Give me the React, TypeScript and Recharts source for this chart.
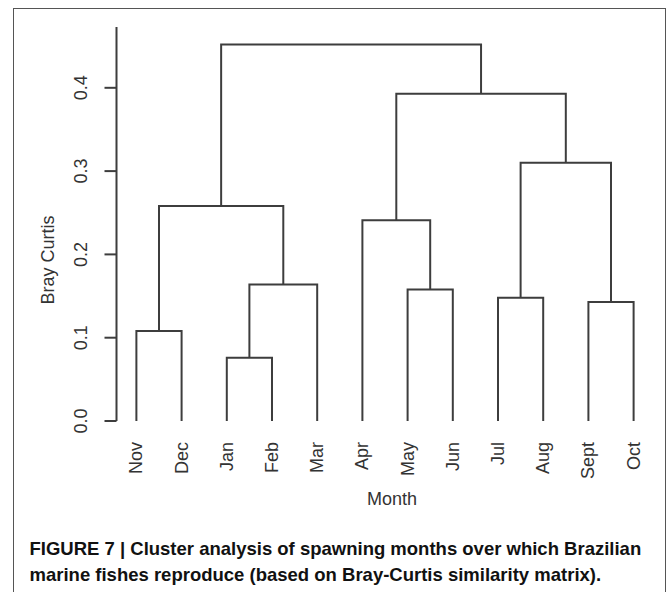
import React from 'react';
import { ScatterChart, Scatter, XAxis, YAxis } from 'recharts';

// Leaf order of the dendrogram
const months = ['Nov', 'Dec', 'Jan', 'Feb', 'Mar', 'Apr', 'May', 'Jun', 'Jul', 'Aug', 'Sept', 'Oct'];
// Agglomeration steps (R hclust style): '#n' refers to merge n
const mergeLeft = ['Jan', 'Nov', 'Sept', 'Jul', 'May', '#1', 'Apr', '#2', '#4', '#7', '#8'];
const mergeRight = ['Feb', 'Dec', 'Oct', 'Aug', 'Jun', 'Mar', '#5', '#6', '#3', '#9', '#10'];
const mergeHeights = [0.076, 0.108, 0.143, 0.148, 0.158, 0.164, 0.241, 0.258, 0.31, 0.393, 0.452];
const yTicks = [0, 0.1, 0.2, 0.3, 0.4];
const yTop = 0.473;

const FONT = '"Liberation Sans", Arial, Helvetica, sans-serif';
const INK = '#3d3d3d';

function nodeX(ref: string): number {
  if (ref.startsWith('#')) {
    const i = parseInt(ref.slice(1), 10) - 1;
    return (nodeX(mergeLeft[i]) + nodeX(mergeRight[i])) / 2;
  }
  return months.indexOf(ref) + 1;
}
function nodeY(ref: string): number {
  if (ref.startsWith('#')) return mergeHeights[parseInt(ref.slice(1), 10) - 1];
  return 0;
}

const brackets = mergeHeights.map((h, i) => {
  const l = mergeLeft[i];
  const r = mergeRight[i];
  return [
    { x: nodeX(l), y: nodeY(l) },
    { x: nodeX(l), y: h },
    { x: nodeX(r), y: h },
    { x: nodeX(r), y: nodeY(r) },
  ];
});

const NoShape = () => <g />;

const YTick = (props: any) => {
  const { y, payload } = props;
  return (
    <text
      transform={`translate(87, ${y}) rotate(-90)`}
      textAnchor="middle"
      fontSize={18}
      fontFamily={FONT}
      fill="#333"
    >
      {Number(payload.value).toFixed(1)}
    </text>
  );
};

const XTick = (props: any) => {
  const { x, payload } = props;
  return (
    <text
      transform={`translate(${x + 6}, 442) rotate(-90)`}
      textAnchor="end"
      fontSize={18}
      fontFamily={FONT}
      fill="#333"
    >
      {months[Math.round(payload.value) - 1]}
    </text>
  );
};

export default function App() {
  return (
    <div style={{ position: 'absolute', left: 0, top: 0, width: 672, height: 592, background: '#fff', overflow: 'hidden' }}>
      <div
        style={{
          position: 'absolute',
          left: 13,
          top: 8,
          width: 653,
          height: 620,
          border: '1.5px solid #555',
          boxSizing: 'border-box',
        }}
      />
      <div style={{ position: 'absolute', left: 0, top: 0 }}>
        <ScatterChart width={672} height={592} margin={{ top: 27, right: 18.5, bottom: 141, left: 56.5 }}>
          <XAxis
            type="number"
            dataKey="x"
            domain={[0.56, 12.44]}
            ticks={months.map((_, i) => i + 1)}
            interval={0}
            height={30}
            axisLine={false}
            tickLine={false}
            tick={<XTick />}
            allowDataOverflow
          />
          <YAxis
            type="number"
            dataKey="y"
            domain={[0, yTop]}
            ticks={yTicks}
            interval={0}
            width={60}
            tickSize={12}
            axisLine={{ stroke: INK, strokeWidth: 2 }}
            tickLine={{ stroke: INK, strokeWidth: 2 }}
            tick={<YTick />}
            allowDataOverflow
          />
          {brackets.map((d, i) => (
            <Scatter
              key={i}
              data={d}
              line={{ stroke: INK, strokeWidth: 2 }}
              lineType="joint"
              shape={<NoShape />}
              fill={INK}
              isAnimationActive={false}
            />
          ))}
        </ScatterChart>
      </div>
      <svg width={672} height={592} style={{ position: 'absolute', left: 0, top: 0, pointerEvents: 'none' }}>
        <text
          transform="translate(54, 260) rotate(-90)"
          textAnchor="middle"
          fontSize={18}
          fontFamily={FONT}
          fill="#333"
        >
          Bray Curtis
        </text>
        <text x={392} y={505} textAnchor="middle" fontSize={18} fontFamily={FONT} fill="#333">
          Month
        </text>
        <text x={29.5} y={555} fontSize={18.5} fontWeight="bold" fontFamily={FONT} fill="#111">
          FIGURE 7 | Cluster analysis of spawning months over which Brazilian
        </text>
        <text x={29.5} y={581} fontSize={18.5} fontWeight="bold" fontFamily={FONT} fill="#111">
          marine fishes reproduce (based on Bray-Curtis similarity matrix).
        </text>
      </svg>
    </div>
  );
}
